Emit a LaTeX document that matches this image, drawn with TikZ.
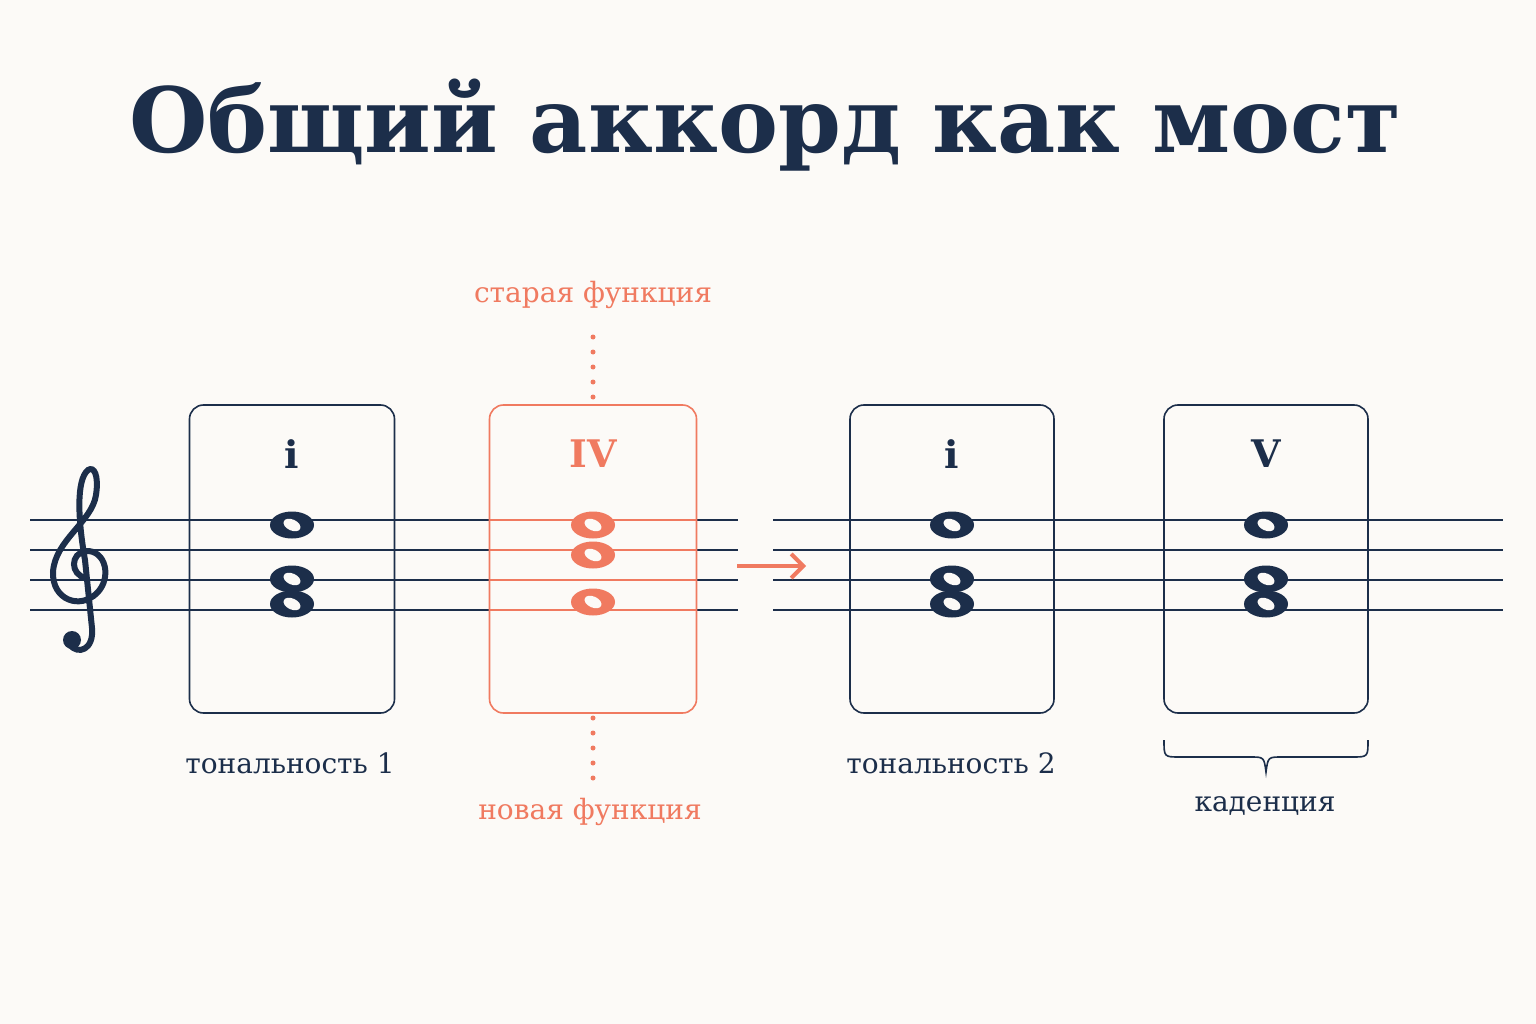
\documentclass[tikz,border=0pt]{standalone}
\usepackage{fontspec}
\usetikzlibrary{arrows.meta}
\setmainfont{DejaVu Serif}
\definecolor{bg}{HTML}{FCFAF7}
\definecolor{navy}{HTML}{1C2E4A}
\definecolor{acc}{HTML}{F07A60}
\begin{document}
\begin{tikzpicture}[x=1pt,y=-1pt,
  box/.style={draw=navy,line width=1.6pt,rounded corners=14pt},
  staff/.style={draw=navy,line width=1.2pt},
  lbl/.style={text=navy,font=\fontsize{28}{32}\selectfont},
  rn/.style={text=navy,font=\fontsize{38}{42}\selectfont\bfseries},
  olbl/.style={text=acc,font=\fontsize{28}{32}\selectfont},
  dots/.style={draw=acc,line width=5pt,line cap=round,dash pattern=on 0pt off 15pt}]
\fill[bg] (0,0) rectangle (1536,1024);
\node[text=navy,font=\fontsize{90}{100}\selectfont\bfseries] (title) at (765,125) {Общий аккорд как мост};
% staff
\foreach \y in {520,550,580,610}{
  \draw[staff] (30,\y) -- (738,\y);
  \draw[staff] (773,\y) -- (1503,\y);
  \draw[draw=acc,line width=1.2pt] (490,\y) -- (697,\y);
}
% treble clef (drawn)
\draw[navy,line width=6pt,line cap=round]
  (86,578) .. controls (70,575) and (70,553) .. (86,551)
  .. controls (106,550) and (112,578) .. (97,593)
  .. controls (80,610) and (52,600) .. (53,572)
  .. controls (55,540) and (92,522) .. (96,495)
  .. controls (99,475) and (94,466) .. (88,470)
  .. controls (76,480) and (78,520) .. (85,560)
  -- (92,628) .. controls (94,650) and (78,655) .. (70,645);
\fill[navy] (72,640) circle (9pt);
\coordinate (clef) at (80,560);
% boxes
\node[box,minimum width=205pt,minimum height=308pt] (b1) at (292,559) {};
\node[box,draw=acc,minimum width=207pt,minimum height=308pt] (b2) at (593,559) {};
\node[box,minimum width=204pt,minimum height=308pt] (b3) at (952,559) {};
\node[box,minimum width=204pt,minimum height=308pt] (b4) at (1266,559) {};
\node[rn] (r1) at (292,454) {i};
\node[rn,text=acc] (r2) at (593,454) {IV};
\node[rn] (r3) at (952,454) {i};
\node[rn] (r4) at (1266,454) {V};
% notes
\newcommand\wnote[3]{%
  \fill[#3] (#1,#2) ellipse [x radius=22pt,y radius=13.5pt];
  \fill[bg,rotate around={-25:(#1,#2)}] (#1,#2) ellipse [x radius=9pt,y radius=5.5pt];}
\foreach \x in {292,952,1266}{
  \wnote{\x}{525}{navy}\wnote{\x}{579}{navy}\wnote{\x}{604}{navy}}
\wnote{593}{525}{acc}\wnote{593}{555}{acc}\wnote{593}{602}{acc}
% arrow
\coordinate (a0) at (737,566); \coordinate (a1) at (806,566);
\draw[acc,line width=4pt,-{Straight Barb[length=12pt,width=24pt]}] (a0) -- (a1);
% dotted
\coordinate (d0) at (593,337); \coordinate (d1) at (593,402);
\coordinate (d2) at (593,718); \coordinate (d3) at (593,778);
\draw[dots] (d0) -- (d1);
\draw[dots] (d2) -- (d3);
\node[olbl] (old) at (593,295) {старая функция};
\node[olbl] (new) at (590,812) {новая функция};
\node[lbl] (t1) at (290,763) {тональность 1};
\node[lbl] (t2) at (951,763) {тональность 2};
\node[lbl] (cad) at (1265,806) {каденция};
\draw[navy,line width=1.6pt] (1164,740) .. controls (1164,757) .. (1180,757) -- (1250,757) .. controls (1264,757) .. (1266,772) .. controls (1268,757) .. (1282,757) -- (1352,757) .. controls (1368,757) .. (1368,740);
\end{tikzpicture}
\end{document}
